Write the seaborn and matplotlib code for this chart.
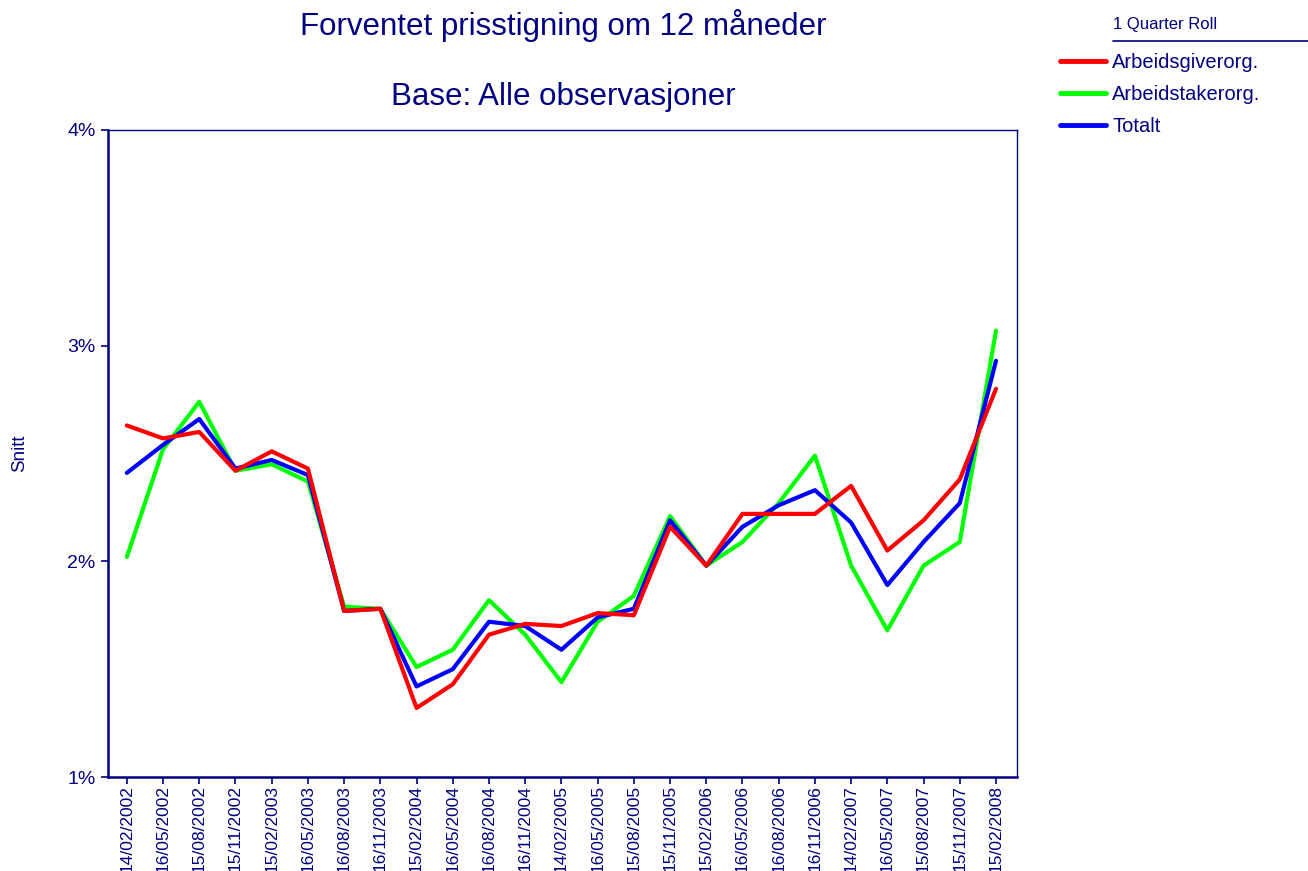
import pandas as pd
import matplotlib.pyplot as plt
import seaborn as sns
from matplotlib.lines import Line2D
from matplotlib.ticker import FuncFormatter

# Data (percent)
dates = ['14/02/2002', '16/05/2002', '15/08/2002', '15/11/2002', '15/02/2003', '16/05/2003',
         '16/08/2003', '16/11/2003', '15/02/2004', '16/05/2004', '16/08/2004', '16/11/2004',
         '14/02/2005', '16/05/2005', '15/08/2005', '15/11/2005', '15/02/2006', '16/05/2006',
         '16/08/2006', '16/11/2006', '14/02/2007', '16/05/2007', '15/08/2007', '15/11/2007',
         '15/02/2008']
arbeidsgiver = [2.63, 2.57, 2.60, 2.42, 2.51, 2.43, 1.77, 1.78, 1.32, 1.43, 1.66, 1.71,
                1.70, 1.76, 1.75, 2.16, 1.98, 2.22, 2.22, 2.22, 2.35, 2.05, 2.19, 2.38, 2.80]
arbeidstaker = [2.02, 2.52, 2.74, 2.42, 2.45, 2.37, 1.79, 1.78, 1.51, 1.59, 1.82, 1.66,
                1.44, 1.72, 1.84, 2.21, 1.98, 2.09, 2.27, 2.49, 1.98, 1.68, 1.98, 2.09, 3.07]
totalt = [2.41, 2.54, 2.66, 2.43, 2.47, 2.40, 1.77, 1.78, 1.42, 1.50, 1.72, 1.70,
          1.59, 1.74, 1.78, 2.19, 1.98, 2.16, 2.26, 2.33, 2.18, 1.89, 2.09, 2.27, 2.93]

df = pd.DataFrame({'dato': dates,
                   'Arbeidsgiverorg.': arbeidsgiver,
                   'Arbeidstakerorg.': arbeidstaker,
                   'Totalt': totalt})
long_df = df.melt(id_vars='dato', var_name='gruppe', value_name='snitt')

navy = '#000080'
colors = {'Arbeidsgiverorg.': '#ff0000', 'Arbeidstakerorg.': '#00ff00', 'Totalt': '#0000ff'}

sns.set_theme(style='white')
plt.rcParams['font.family'] = ['Liberation Sans', 'DejaVu Sans']

fig = plt.figure(figsize=(13.08, 8.71), dpi=100)
ax = fig.add_axes([108/1308, 1-777/871, 909/1308, 647/871])

# green below, red on top
for name in ['Arbeidstakerorg.', 'Totalt', 'Arbeidsgiverorg.']:
    sns.lineplot(data=long_df[long_df['gruppe'] == name], x='dato', y='snitt',
                 color=colors[name], linewidth=3, sort=False, ax=ax, label=name)

ax.set_xlim(-0.52, len(dates) - 1 + 0.58)
ax.set_ylim(1, 4)
ax.set_yticks([1, 2, 3, 4])
ax.yaxis.set_major_formatter(FuncFormatter(lambda v, p: f'{v:.0f}%'))
ax.set_xlabel('')
ax.set_ylabel('Snitt', color=navy, fontsize=13.5)
ax.yaxis.set_label_coords(-80/909, 0.5)

ax.tick_params(axis='x', rotation=90, colors=navy, labelsize=12.5, length=5, width=1.2, direction='out', pad=1)
ax.tick_params(axis='y', colors=navy, labelsize=14, length=5, width=1.2, direction='out', pad=4)
ax.tick_params(bottom=True, left=True)
for side in ['left', 'bottom']:
    ax.spines[side].set_color(navy)
    ax.spines[side].set_linewidth(1.8)
for side in ['top', 'right']:
    ax.spines[side].set_color(navy)
    ax.spines[side].set_linewidth(1.0)

ax.get_legend().remove()

# Titles
fig.text(563/1308, 1-25/871, 'Forventet prisstigning om 12 måneder', ha='center', va='center',
         fontsize=22.5, color=navy)
fig.text(563/1308, 1-97/871, 'Base: Alle observasjoner', ha='center', va='center',
         fontsize=22.5, color=navy)

# Legend at top right
fig.text(1113/1308, 1-25/871, '1 Quarter Roll', ha='left', va='center', fontsize=12, color=navy)
fig.add_artist(Line2D([1113/1308, 1.0], [1-41/871, 1-41/871], transform=fig.transFigure,
                      color=navy, linewidth=1.2))
order = ['Arbeidsgiverorg.', 'Arbeidstakerorg.', 'Totalt']
handles = [Line2D([], [], color=colors[n], linewidth=3.5, solid_capstyle='round') for n in order]
leg = fig.legend(handles, order, loc='upper left', bbox_to_anchor=(1060/1308, 1-53/871),
                 frameon=False, fontsize=14.5, handlelength=2.3, handletextpad=0.3,
                 labelspacing=0.65, borderpad=0, borderaxespad=0)
for t in leg.get_texts():
    t.set_color(navy)

plt.savefig('out.png', dpi=100)
